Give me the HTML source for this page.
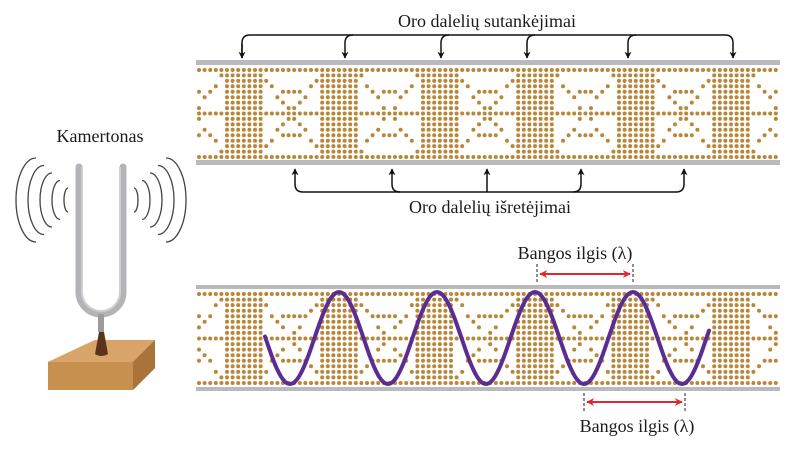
<!DOCTYPE html>
<html><head><meta charset="utf-8"><style>
html,body{margin:0;padding:0;background:#fff;width:800px;height:451px;overflow:hidden}
svg text{font-family:"Liberation Serif",serif;fill:#1a1a1a}
</style></head><body>
<svg id="s" width="800" height="451" viewBox="0 0 800 451" xmlns="http://www.w3.org/2000/svg">
<defs>
<marker id="ak" viewBox="0 0 10 10" refX="9" refY="5" markerWidth="7" markerHeight="8" orient="auto" markerUnits="userSpaceOnUse"><path d="M0,0 L10,5 L0,10 L3,5 z" fill="#111"/></marker>
<marker id="ar" viewBox="0 0 10 10" refX="9" refY="5" markerWidth="9" markerHeight="8" orient="auto-start-reverse" markerUnits="userSpaceOnUse"><path d="M0,0 L10,5 L0,10 L3,5 z" fill="#e0282e"/></marker>
</defs>
<rect x="196" y="60" width="584" height="5" fill="#b9babd"/>
<rect x="196" y="160" width="584" height="5" fill="#b9babd"/>
<rect x="196" y="285" width="584" height="4" fill="#b9babd"/>
<rect x="196" y="387" width="584" height="4" fill="#b9babd"/>
<g id="dots" fill="#b8873a"></g>
<g fill="none" stroke="#111" stroke-width="1.5">
<path d="M242,58 V43 Q242,35 250,35 H725 Q733,35 733,43 V58" marker-end="url(#ak)"/>
<path d="M242,44 V58" marker-end="url(#ak)"/>
<path d="M353,35 Q345,35 345,43 V58" marker-end="url(#ak)"/>
<path d="M449,35 Q441,35 441,43 V58" marker-end="url(#ak)"/>
<path d="M535,35 Q527,35 527,43 V58" marker-end="url(#ak)"/>
<path d="M636,35 Q628,35 628,43 V58" marker-end="url(#ak)"/>
<path d="M303,192 Q295,192 295,184 V169" marker-end="url(#ak)"/>
<path d="M303,192 H676"/>
<path d="M676,192 Q684,192 684,184 V169" marker-end="url(#ak)"/>
<path d="M400,192 Q392,192 392,184 V169" marker-end="url(#ak)"/>
<path d="M487,192 V169" marker-end="url(#ak)"/>
<path d="M573,192 Q581,192 581,184 V169" marker-end="url(#ak)"/>
</g>
<text x="487" y="27" font-size="18" text-anchor="middle">Oro dalelių sutankėjimai</text>
<text x="490" y="213" font-size="18" text-anchor="middle">Oro dalelių išretėjimai</text>
<path id="wave" fill="none" stroke="#5b2d91" stroke-width="4" stroke-linecap="round"/>
<g stroke="#222" stroke-width="1" stroke-dasharray="3,2">
<path d="M537,264 V282"/><path d="M633,264 V282"/>
<path d="M584,393 V411"/><path d="M685,393 V411"/>
</g>
<path d="M540,274 H630" stroke="#e0282e" stroke-width="2" marker-end="url(#ar)" marker-start="url(#ar)"/>
<path d="M587,402 H682" stroke="#e0282e" stroke-width="2" marker-end="url(#ar)" marker-start="url(#ar)"/>
<text x="575" y="259" font-size="18" text-anchor="middle">Bangos ilgis (λ)</text>
<text x="637" y="432" font-size="18" text-anchor="middle">Bangos ilgis (λ)</text>
<text x="100" y="142" font-size="18" text-anchor="middle">Kamertonas</text>
<g id="arcs" fill="none" stroke="#444" stroke-width="1.3"></g>
<path d="M79,167 V292 A22,22 0 0 0 123,292 V167" fill="none" stroke="#b3b4b8" stroke-width="7" stroke-linecap="round"/>
<path d="M82,167 V292 A19,19 0 0 0 120,292 V167" fill="none" stroke="#cfd0d3" stroke-width="2"/>
<rect x="98" y="314" width="6" height="18" fill="#9a9b9f"/>
<polygon points="48,362 95,340 155,340 155,368 133,390 48,390" fill="#c7904f"/>
<polygon points="48,362 95,340 155,340 133,362" fill="#d9a46a"/>
<polygon points="133,362 155,340 155,368 133,390" fill="#a9743a"/>
<path d="M95,354 Q101,358 108,354 L104,332 L99,332 Z" fill="#5a3418"/>
</svg>
<script>
(function(){
var g=document.getElementById('dots'),h='';
function band(y0,y1,c0,per){
 var rows=17,dy=(y1-y0)/(rows-1);
 for(var x=199;x<=778;x+=5.6){
  var p=((x-c0)/per)%1; if(p<0)p+=1;
  var dc=Math.min(p,1-p);
  for(var r=0;r<rows;r++){
   var on=false;
   if(r==0||r==rows-1||r==8) on=true;
   else if(dc<0.2) on=true;
   else{
    var d=(0.5-dc)/0.3;
    var k=Math.round(d*7);
    if(Math.abs(r-8)==k) on=true;
    if((r==4||r==12)&&d<0.35) on=true;
   }
   if(on) h+='<circle cx="'+x.toFixed(1)+'" cy="'+(y0+r*dy).toFixed(1)+'" r="2"/>';
  }
 }
}
band(70,157,242,98.2);
band(294,383,241,98);
g.innerHTML=h;
var d='';
for(var x=265;x<=710;x+=2){var y=338-46*Math.cos(2*Math.PI*(x-535)/98);d+=(x==265?'M':'L')+x+','+y.toFixed(1);}
document.getElementById('wave').setAttribute('d',d);
var a='';
for(var i=0;i<5;i++){
 var rx=4+i*4, ry=12+i*7.5;
 var lx=68-i*8, rxx=134+i*8;
 a+='<path d="M'+lx+','+(200-ry)+' A'+rx+','+ry+' 0 0 0 '+lx+','+(200+ry)+'"/>';
 a+='<path d="M'+rxx+','+(200-ry)+' A'+rx+','+ry+' 0 0 1 '+rxx+','+(200+ry)+'"/>';
}
document.getElementById('arcs').innerHTML=a;
})();
</script>
</body></html>
